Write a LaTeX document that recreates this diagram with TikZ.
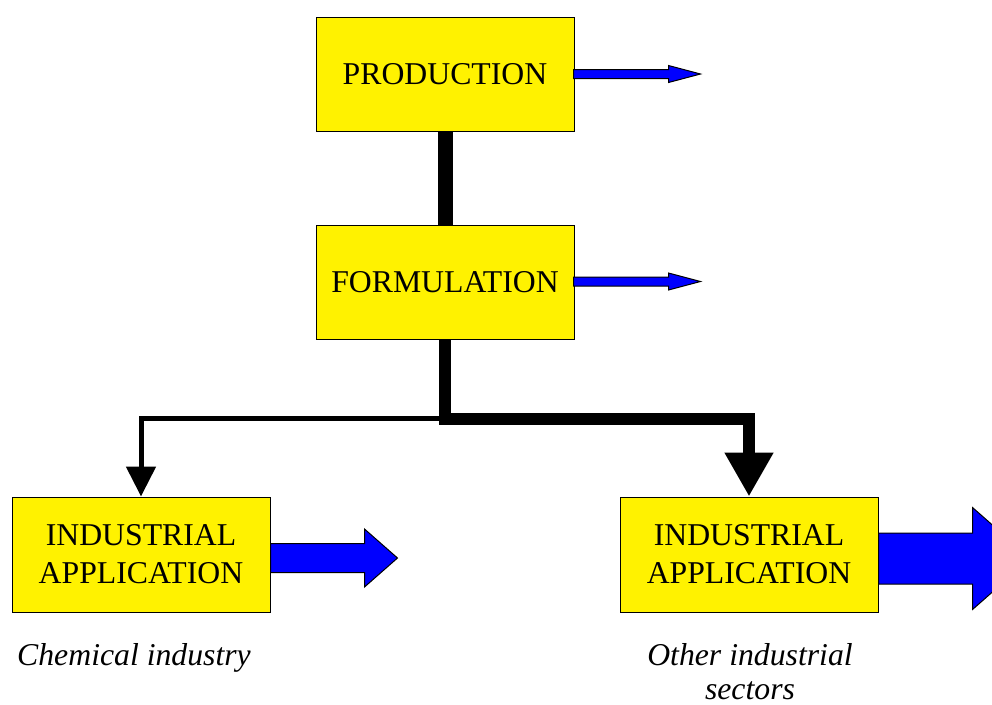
\documentclass[tikz,border=0pt]{standalone}
\usepackage{fontspec}
\setmainfont{Liberation Serif}
\usetikzlibrary{arrows.meta}
\begin{document}
\begin{tikzpicture}[x=0.75pt,y=-0.75pt,
  box/.style={draw=black,line width=0.75pt,fill=yellow,inner sep=0pt,
    minimum width=193.5pt,minimum height=85.5pt,align=center,
    font=\fontsize{23.8}{28.5}\selectfont},
  lbl/.style={inner sep=0pt,align=center,font=\fontsize{23.8}{27}\selectfont\itshape},
  blockarrow/.style={draw=black,fill=blue,line width=0.75pt,line join=miter},
  thinconn/.style={line width=3.75pt,-{Triangle[length=22.5pt,width=21.75pt]}},
  thickconn/.style={line width=9pt,-{Triangle[length=33pt,width=34.5pt]}},
  stem/.style={line width=11.25pt}]
\useasboundingbox (0,0) rectangle (992,704);
\clip (0,0) rectangle (992,704);
% boxes
\node[box] (prod) at (445,74) {PRODUCTION};
\node[box] (form) at (445,282) {FORMULATION};
\node[box,minimum height=86.25pt] (ia1) at (141,554.5) {INDUSTRIAL\\APPLICATION};
\node[box,minimum height=86.25pt] (ia2) at (749,554.5) {INDUSTRIAL\\APPLICATION};
% labels
\node[lbl,anchor=base] (l1) at (134,665) {Chemical industry};
\node[lbl,anchor=base] (l2) at (750,665) {Other industrial};
\node[lbl,anchor=base] (l3) at (750,699) {sectors};
% connectors
\path (form.south) ++(0,79) coordinate (j);
\draw[stem] (prod.south) -- (form.north);
\draw[thickconn] (form.south) -- (j) -| (ia2.north);
\draw[thinconn] (j) -| (ia1.north);
% blue output arrows
\draw[blockarrow] (prod.east) ++(-1,-4.5) -- ++(95,0) -- ++(0,-4) -- ++(32,8.5) -- ++(-32,8.5) -- ++(0,-4) -- ++(-95,0) -- cycle;
\draw[blockarrow] (form.east) ++(-1,-5) -- ++(95,0) -- ++(0,-4) -- ++(32,8.5) -- ++(-32,8.5) -- ++(0,-4) -- ++(-95,0) -- cycle;
\draw[blockarrow] (ia1.east) ++(0,-11) -- ++(94,0) -- ++(0,-14.5) -- ++(33,29) -- ++(-33,29) -- ++(0,-14.5) -- ++(-94,0) -- cycle;
\draw[blockarrow] (ia2.east) ++(0,-21.5) -- ++(94,0) -- ++(0,-25.5) -- ++(58,51) -- ++(-58,51) -- ++(0,-25.5) -- ++(-94,0) -- cycle;
\end{tikzpicture}
\end{document}
